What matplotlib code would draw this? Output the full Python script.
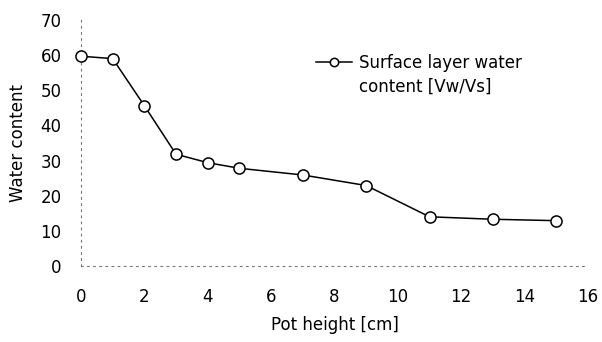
"""Surface layer water content versus pot height."""

import matplotlib
matplotlib.use("Agg")
import matplotlib.pyplot as plt

# values
pot_height = [0, 1, 2, 3, 4, 5, 7, 9, 11, 13, 15]
water_content = [59.7, 59.0, 45.6, 31.8, 29.4, 27.8, 25.9, 22.9, 14.0, 13.3, 12.9]
x_ticks = [0, 2, 4, 6, 8, 10, 12, 14, 16]
y_ticks = [0, 10, 20, 30, 40, 50, 60, 70]
series_label = ["Surface layer water", "content [Vw/Vs]"]

plt.rcParams["font.family"] = ["DejaVu Sans"]
plt.rcParams["font.size"] = 12

fig = plt.figure(figsize=(6.02, 3.42), dpi=100)
ax = fig.add_axes([81 / 602, 1 - 266 / 342, (588 - 81) / 602, (266 - 20) / 342])

ax.plot(pot_height, water_content, color="black", linewidth=1.1,
        marker="o", markersize=8, markerfacecolor="white",
        markeredgecolor="black", markeredgewidth=1.1,
        clip_on=False, zorder=3, label=series_label[0])

ax.set_xlim(0, 16)
ax.set_ylim(0, 70)
ax.set_xticks(x_ticks)
ax.set_yticks(y_ticks)
ax.tick_params(length=0, labelsize=12)
ax.tick_params(axis="x", pad=16)
ax.tick_params(axis="y", pad=14)

# the scanned axes are faint and broken, so keep them dotted and grey
for side in ("top", "right"):
    ax.spines[side].set_visible(False)
for side in ("left", "bottom"):
    ax.spines[side].set_color("#777777")
    ax.spines[side].set_linewidth(0.8)
    ax.spines[side].set_linestyle((0, (1.5, 4)))

ax.set_xlabel("Pot height [cm]", fontsize=12, labelpad=7)
ax.set_ylabel("Water content", fontsize=12, labelpad=10)

# legend marker sits beside the first line of the label, second line hangs below
ax.legend(loc="upper left", bbox_to_anchor=(0.434, 0.924), frameon=False,
          handlelength=2.15, handletextpad=0.4, fontsize=12,
          markerscale=0.75)
ax.text(0.548, 0.728, series_label[1], transform=ax.transAxes,
        ha="left", va="center", fontsize=12)

fig.savefig("out.png", dpi=100)
